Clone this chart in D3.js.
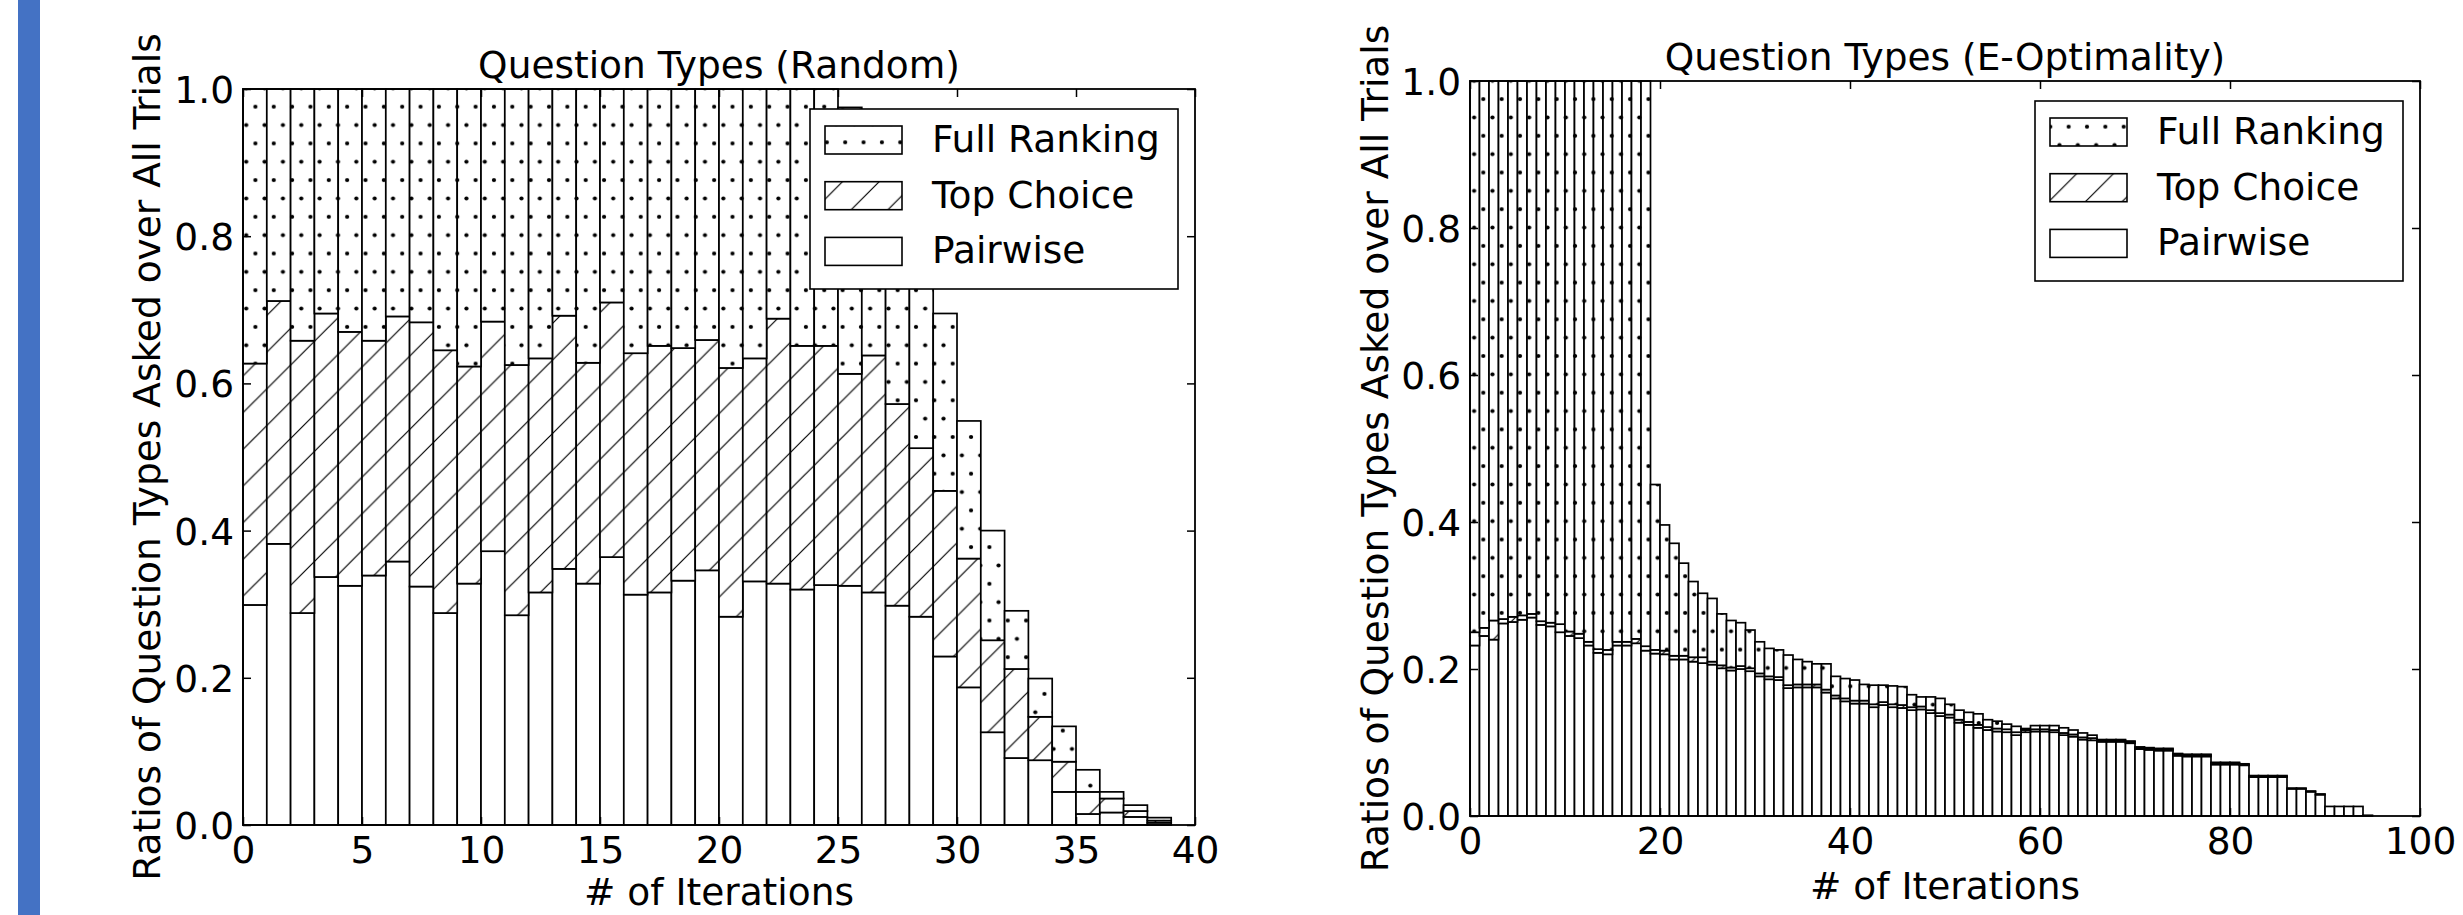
<!DOCTYPE html>
<html>
<head>
<meta charset="utf-8">
<script src="https://d3js.org/d3.v7.min.js"></script>
<style>
body { margin: 0; background: white; }
svg { display: block; }
text { font-family: "DejaVu Sans", sans-serif; fill: black; }
.tick line { stroke: black; stroke-width: 1.5; }
</style>
</head>
<body>
<svg width="2463" height="915"></svg>
<script>
// stacking order, bottom to top, and the order shown in the legend
var seriesNames = ["Pairwise", "Top Choice", "Full Ranking"];
var legendNames = ["Full Ranking", "Top Choice", "Pairwise"];

// Question Types (Random): one value per iteration bin, 0..38
var randPairwise = [0.299,0.382,0.288,0.337,0.325,0.339,0.358,0.324,0.288,0.328,
  0.372,0.285,0.316,0.348,0.328,0.364,0.313,0.316,0.332,0.346,
  0.283,0.331,0.328,0.320,0.326,0.325,0.316,0.298,0.283,0.229,
  0.187,0.126,0.091,0.088,0.045,0.015,0.017,0.011,0.003];
var randTopChoice = [0.328,0.330,0.370,0.358,0.345,0.319,0.333,0.359,0.357,0.295,
  0.312,0.340,0.318,0.344,0.300,0.346,0.328,0.335,0.316,0.313,
  0.338,0.303,0.360,0.331,0.325,0.288,0.322,0.274,0.229,0.225,
  0.175,0.125,0.121,0.059,0.041,0.030,0.019,0.008,0.003];
var randFullRanking = [0.373,0.288,0.342,0.305,0.330,0.342,0.309,0.317,0.355,0.377,
  0.316,0.375,0.366,0.308,0.372,0.290,0.359,0.349,0.352,0.341,
  0.379,0.366,0.312,0.349,0.349,0.362,0.292,0.288,0.268,0.241,
  0.187,0.149,0.079,0.052,0.048,0.030,0.009,0.008,0.004];

// Question Types (E-Optimality): iteration bins 0..94
var eoptPairwise = [0.232,0.245,0.240,0.262,0.264,0.267,0.270,0.260,0.258,0.250,
  0.245,0.242,0.232,0.222,0.220,0.232,0.232,0.235,0.225,0.221,
  0.220,0.213,0.213,0.210,0.208,0.206,0.201,0.198,0.200,0.197,
  0.190,0.186,0.185,0.174,0.175,0.175,0.175,0.168,0.160,0.156,
  0.153,0.153,0.148,0.151,0.148,0.147,0.144,0.145,0.140,0.136,
  0.134,0.127,0.124,0.120,0.117,0.115,0.114,0.110,0.114,0.115,
  0.115,0.114,0.110,0.108,0.104,0.103,0.101,0.101,0.101,0.099,
  0.091,0.090,0.089,0.089,0.082,0.081,0.081,0.081,0.070,0.070,
  0.070,0.069,0.053,0.053,0.053,0.053,0.037,0.037,0.033,0.029,
  0.013,0.013,0.013,0.013,0.001];
var eoptTopChoice = [0.018,0.011,0.026,0.006,0.007,0.006,0.005,0.005,0.005,0.011,
  0.006,0.006,0.005,0.005,0.006,0.005,0.005,0.006,0.006,0.005,
  0.005,0.005,0.005,0.006,0.008,0.004,0.004,0.004,0.004,0.004,
  0.004,0.004,0.004,0.004,0.004,0.004,0.004,0.004,0.004,0.004,
  0.004,0.004,0.004,0.004,0.004,0.004,0.004,0.004,0.004,0.004,
  0.004,0.004,0.004,0.004,0.004,0.004,0.004,0.004,0.003,0.003,
  0.003,0.003,0.003,0.003,0.003,0.003,0.002,0.002,0.002,0.002,
  0.002,0.002,0.002,0.002,0.002,0.002,0.002,0.002,0.002,0.002,
  0.002,0.001,0.001,0.001,0.001,0.001,0.001,0.001,0.001,0.001,
  0,0,0,0,0];
var eoptFullRanking = [0.750,0.744,0.734,0.732,0.729,0.727,0.725,0.735,0.737,0.739,
  0.749,0.752,0.763,0.773,0.774,0.763,0.763,0.759,0.769,0.225,
  0.171,0.153,0.126,0.103,0.087,0.086,0.070,0.064,0.059,0.052,
  0.043,0.038,0.037,0.041,0.034,0.031,0.028,0.035,0.026,0.027,
  0.028,0.022,0.026,0.023,0.025,0.025,0.017,0.013,0.018,0.020,
  0.014,0.013,0.013,0.015,0.010,0.010,0.007,0.008,0.002,0.005,
  0.005,0.006,0.007,0.006,0.006,0.004,0.001,0.001,0.001,0.001,
  0.001,0.001,0.001,0.001,0.001,0.001,0.001,0.001,0.001,0.001,
  0.001,0.001,0.001,0.001,0.001,0.001,0,0,0,0,
  0,0,0,0,0];

var randXTicks = [0, 5, 10, 15, 20, 25, 30, 35, 40];
var eoptXTicks = [0, 20, 40, 60, 80, 100];
var yTicks = [0, 0.2, 0.4, 0.6, 0.8, 1.0];

var fs = 37.5;
var svg = d3.select("svg");
var defs = svg.append("defs");

// blue strip on the far left of the slide
svg.append("rect").attr("x", 18).attr("y", 0).attr("width", 22).attr("height", 915)
   .attr("fill", "#4472c4");

function makePatterns(id, dotX, dotY) {
  var dx = 18.35, dy = 18.35;
  var p = defs.append("pattern").attr("id", "dots-" + id)
      .attr("patternUnits", "userSpaceOnUse")
      .attr("x", dotX).attr("y", dotY)
      .attr("width", dx).attr("height", 2 * dy);
  p.append("rect").attr("width", dx).attr("height", 2 * dy).attr("fill", "white");
  [[0, 0], [dx, 0], [0, 2 * dy], [dx, 2 * dy], [dx / 2, dy]].forEach(function(c) {
    p.append("circle").attr("cx", c[0]).attr("cy", c[1]).attr("r", 2.1).attr("fill", "black");
  });

  var s = 36.7;
  var h = defs.append("pattern").attr("id", "hatch-" + id)
      .attr("patternUnits", "userSpaceOnUse")
      .attr("x", dotX).attr("y", dotY)
      .attr("width", s).attr("height", s);
  h.append("rect").attr("width", s).attr("height", s).attr("fill", "white");
  h.append("path")
   .attr("d", "M0," + s + "L" + s + ",0 M-3,3L3,-3 M" + (s - 3) + "," + (s + 3) + "L" + (s + 3) + "," + (s - 3))
   .attr("stroke", "black").attr("stroke-width", 1.2);
}

function drawChart(c) {
  makePatterns(c.id, c.dotX, c.dotY);
  var fills = {
    "Pairwise": "white",
    "Top Choice": "url(#hatch-" + c.id + ")",
    "Full Ranking": "url(#dots-" + c.id + ")"
  };

  var rows = c.pairwise.map(function(d, i) {
    return {i: i, "Pairwise": d, "Top Choice": c.topChoice[i], "Full Ranking": c.fullRanking[i]};
  });
  var layers = d3.stack().keys(seriesNames)(rows);

  var x = d3.scaleLinear().domain(c.xDomain).range([c.left, c.right]);
  var y = d3.scaleLinear().domain([0, 1]).range([c.bottom, c.top]);

  layers.forEach(function(layer) {
    svg.append("g").selectAll("rect")
      .data(layer)
      .enter()
      .append("rect")
       .attr("x", function(d) { return x(d.data.i); })
       .attr("width", function(d) { return x(d.data.i + 1) - x(d.data.i); })
       .attr("y", function(d) { return y(d[1]); })
       .attr("height", function(d) { return y(d[0]) - y(d[1]); })
       .attr("fill", fills[layer.key])
       .attr("stroke", "black")
       .attr("stroke-width", 1.7);
  });

  // ticks point inwards on all four sides, labels only bottom / left
  var gx = svg.append("g").attr("transform", "translate(0," + c.bottom + ")")
     .call(d3.axisBottom(x).tickValues(c.xTicks).tickSize(-8).tickPadding(11).tickFormat(d3.format("d")));
  var gy = svg.append("g").attr("transform", "translate(" + c.left + ",0)")
     .call(d3.axisLeft(y).tickValues(yTicks).tickSize(-8).tickPadding(9).tickFormat(d3.format(".1f")));
  var gt = svg.append("g").attr("transform", "translate(0," + c.top + ")")
     .call(d3.axisTop(x).tickValues(c.xTicks).tickSize(-8).tickFormat(""));
  var gr = svg.append("g").attr("transform", "translate(" + c.right + ",0)")
     .call(d3.axisRight(y).tickValues(yTicks).tickSize(-8).tickFormat(""));
  [gx, gy, gt, gr].forEach(function(g) {
    g.select(".domain").remove();
    g.selectAll("text").style("font-size", fs + "px").style("font-family", "DejaVu Sans").attr("fill", "black");
  });
  gx.selectAll("text").attr("dy", null).attr("y", 37.6);
  gy.selectAll("text").attr("dy", null).attr("y", 13.5);

  svg.append("rect")
     .attr("x", c.left).attr("y", c.top)
     .attr("width", c.right - c.left).attr("height", c.bottom - c.top)
     .attr("fill", "none").attr("stroke", "black").attr("stroke-width", 1.8);

  var cx = (c.left + c.right) / 2;
  svg.append("text")
     .attr("x", cx).attr("y", c.top - 11)
     .style("text-anchor", "middle").style("font-size", fs + "px")
     .text(c.title);
  svg.append("text")
     .attr("x", cx).attr("y", Math.min(c.bottom + 83, 905))
     .style("text-anchor", "middle").style("font-size", fs + "px")
     .text("# of Iterations");
  svg.append("text")
     .attr("transform", "translate(" + c.ylabelX + "," + ((c.top + c.bottom) / 2) + ") rotate(-90)")
     .style("text-anchor", "middle").style("font-size", fs + "px")
     .text("Ratios of Question Types Asked over All Trials");

  // legend, upper right
  var lg = svg.append("g").attr("transform", "translate(" + (c.right - 385) + "," + (c.top + 20) + ")");
  lg.append("rect").attr("width", 368).attr("height", 180)
    .attr("fill", "white").attr("stroke", "black").attr("stroke-width", 1.6);
  legendNames.forEach(function(name, k) {
    lg.append("rect")
      .attr("x", 15).attr("y", 17 + k * 55.7)
      .attr("width", 77).attr("height", 28)
      .attr("fill", fills[name]).attr("stroke", "black").attr("stroke-width", 1.6);
    lg.append("text")
      .attr("x", 122).attr("y", 43 + k * 55.7)
      .style("font-size", fs + "px")
      .text(name);
  });
}

drawChart({
  id: "rand", title: "Question Types (Random)",
  pairwise: randPairwise, topChoice: randTopChoice, fullRanking: randFullRanking,
  xDomain: [0, 40], xTicks: randXTicks,
  left: 243, right: 1195, top: 89, bottom: 825, ylabelX: 160,
  dotX: 255.4, dotY: 106.7
});

drawChart({
  id: "eopt", title: "Question Types (E-Optimality)",
  pairwise: eoptPairwise, topChoice: eoptTopChoice, fullRanking: eoptFullRanking,
  xDomain: [0, 100], xTicks: eoptXTicks,
  left: 1470, right: 2420, top: 81, bottom: 816, ylabelX: 1388,
  dotX: 1483.3, dotY: 392.7
});
</script>
</body>
</html>
